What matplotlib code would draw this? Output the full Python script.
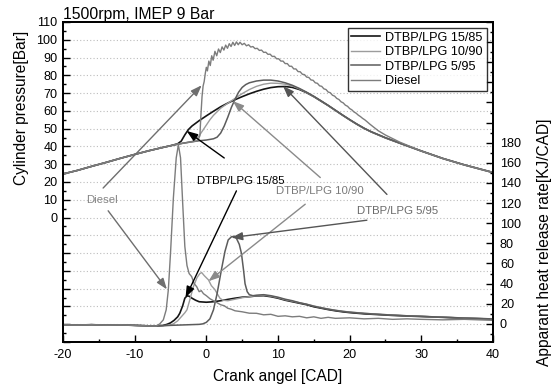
import matplotlib
matplotlib.use('Agg')
import matplotlib.pyplot as plt
from matplotlib.ticker import FixedLocator, FuncFormatter, MultipleLocator

plt.rcParams['font.family'] = ['Liberation Sans', 'DejaVu Sans']
plt.rcParams['axes.unicode_minus'] = False

# ---- cylinder pressure [bar] vs crank angle ----
comp_ca = [-20, -18, -16, -14, -12, -10, -8, -6, -5]
comp_p = [24.5, 26.5, 28.8, 31.0, 33.3, 35.5, 37.6, 39.5, 40.4]

p_1585_ca = comp_ca + [-4, -3.5, -3, -2.5, -2, -1, 0, 1, 2, 3, 4, 5, 6, 7, 8, 9, 10, 11, 12,
                       13, 14, 15, 16, 17, 18, 19, 20, 21, 22, 23, 24, 25, 27, 30, 33, 36, 40]
p_1585 = comp_p + [41.5, 43.0, 46.5, 49.5, 51.5, 54.5, 57.2, 59.8, 62.3, 64.4, 66.3, 68.0, 69.6,
                   71.0, 72.2, 73.1, 73.6, 73.7, 73.2, 72.0, 70.2, 68.0, 65.5, 63.0, 60.3, 57.6,
                   55.0, 52.5, 50.2, 48.2, 46.5, 44.8, 41.8, 37.4, 33.2, 29.6, 25.3]

p_1090_ca = comp_ca + [-4, -3, -2, -1.5, -1, -0.5, 0, 0.5, 1, 1.5, 2, 3, 4, 5, 6, 7, 8, 9, 10,
                       11, 12, 13, 14, 15, 16, 17, 18, 19, 20, 21, 22, 23, 24, 25, 27, 30, 33, 36, 40]
p_1090 = comp_p + [41.3, 42.0, 42.8, 44.0, 46.0, 49.0, 52.0, 55.0, 57.5, 59.5, 61.5, 64.3, 67.0,
                   69.7, 72.0, 73.8, 75.0, 75.6, 75.5, 75.0, 74.0, 72.3, 70.3, 68.0, 65.6, 63.0,
                   60.3, 57.6, 55.0, 52.5, 50.2, 48.2, 46.5, 44.8, 41.8, 37.4, 33.2, 29.6, 25.2]

p_595_ca = comp_ca + [-3, -1, 0, 1, 1.5, 2, 2.5, 3, 3.5, 4, 4.5, 5, 5.5, 6, 7, 8, 9, 10, 11, 12,
                      13, 14, 15, 16, 17, 18, 19, 20, 21, 22, 23, 24, 25, 27, 30, 33, 36, 40]
p_595 = comp_p + [42.0, 43.2, 43.6, 44.3, 45.2, 47.5, 51.5, 56.5, 62.0, 66.5, 70.5, 73.2, 74.8,
                  75.8, 76.8, 77.3, 77.3, 76.8, 75.8, 74.4, 72.6, 70.5, 68.2, 65.7, 63.1, 60.4,
                  57.7, 55.1, 52.6, 50.3, 48.3, 46.6, 44.9, 41.9, 37.5, 33.3, 29.7, 25.4]

p_dsl_ca = comp_ca[:-1] + [-4, -2, -1.2, -0.9, -0.75, -0.6, -0.45, -0.3, -0.15, 0.0, 0.15, 0.35,
                           0.55, 0.75, 0.95, 1.2, 1.45, 1.7, 1.95, 2.2, 2.45, 2.7, 2.95, 3.2, 3.45,
                           3.7, 3.95, 4.2, 4.45, 4.7, 5.0, 5.3, 5.6, 5.9, 6.2, 6.5, 6.8, 7.1, 7.4,
                           7.7, 8.0, 8.3, 8.6, 8.9, 9.2, 9.5, 9.8, 10.1, 10.4, 10.7, 11.0, 11.3,
                           11.6, 11.9, 12.2, 12.5, 12.8, 13.1, 13.4, 13.7, 14.0, 14.3, 14.6, 14.9,
                           15.2, 15.5, 15.8, 16.1, 16.4, 16.7, 17.0, 17.3, 17.6, 17.9, 18.2, 18.5,
                           18.8, 19.1, 19.4, 19.7, 20.0, 20.3, 20.6, 20.9, 21.2, 21.5, 21.8, 22.1,
                           22.4, 22.8, 23.3, 24, 25, 27, 30, 33, 36, 40]
p_dsl = comp_p[:-1] + [41.3, 42.6, 43.2, 46.0, 58.0, 68.0, 74.0, 76.5, 81.0, 84.5, 82.5, 88.0,
                       85.5, 91.0, 88.5, 93.5, 91.0, 94.8, 92.8, 96.0, 94.2, 97.0, 95.2, 97.8, 96.2,
                       98.6, 96.8, 98.8, 97.2, 98.6, 97.2, 98.0, 96.6, 97.2, 95.9, 96.2, 95.0, 95.2,
                       94.0, 94.2, 92.9, 93.0, 91.8, 91.9, 90.6, 90.7, 89.3, 89.3, 88.0, 88.0, 86.6,
                       86.6, 85.1, 85.1, 83.6, 83.6, 82.1, 82.0, 80.6, 80.4, 79.0, 78.8, 77.4, 77.2,
                       75.8, 75.5, 74.1, 73.8, 72.4, 72.0, 70.6, 70.2, 68.8, 68.3, 67.0, 66.4, 65.1,
                       64.5, 63.2, 62.6, 61.3, 60.6, 59.4, 58.7, 57.6, 56.8, 55.8, 55.0, 54.0, 52.6,
                       51.0, 48.8, 46.4, 42.4, 37.4, 33.2, 29.6, 25.4]

# ---- apparent heat release rate [kJ/CAD] ----
base_ca = [-20, -18, -16, -14, -12, -10, -8, -7]
base_h = [-1.0, -1.2, -0.8, -1.3, -1.0, -1.5, -2.0, -2.2]

h_1585_ca = base_ca + [-6, -5.5, -5, -4.5, -4, -3.7, -3.3, -3.0, -2.7, -2.4, -2, -1.5, -1, 0, 1, 2,
                       3, 4, 5, 6, 7, 8, 9, 10, 11, 12, 13, 14, 15, 16, 17, 18, 19, 20, 21, 22,
                       24, 26, 28, 30, 33, 36, 40]
h_1585 = base_h + [-1.5, -0.5, 1.0, 3.5, 7.0, 10.6, 18.0, 25.5, 27.8, 27.5, 25.5, 23.5, 22.0,
                   21.5, 22.0, 23.0, 24.3, 25.5, 26.5, 27.0, 27.8, 28.0, 27.0, 25.5, 23.5, 22.0,
                   20.5, 19.0, 17.0, 15.6, 14.2, 13.0, 12.0, 11.2, 10.6, 10.0, 9.2, 8.4, 7.8, 7.3,
                   6.5, 5.6, 4.7]

h_1090_ca = base_ca + [-6, -5, -4.6, -4, -3.5, -3, -2.7, -2.3, -1.8, -1.3, -0.9, -0.65, -0.3, 0.3,
                       0.7, 1.2, 1.6, 1.9, 2.3, 3, 4, 5, 6, 7, 8, 9, 10, 11, 12, 13, 14, 15, 16,
                       17, 18, 19, 20, 22, 24, 26, 28, 30, 33, 36, 40]
h_1090 = base_h + [-1.8, -1.0, 0.0, 3.0, 7.0, 11.0, 14.0, 24.0, 37.0, 46.0, 50.0, 51.0, 48.0,
                   43.7, 38.0, 34.0, 29.0, 25.5, 23.5, 23.0, 24.5, 26.0, 27.0, 28.0, 28.5, 27.5,
                   26.0, 24.0, 22.5, 21.0, 19.5, 17.8, 16.2, 14.8, 13.6, 12.6, 11.8, 10.6, 9.6,
                   8.8, 8.1, 7.5, 6.7, 5.9, 5.0]

h_595_ca = base_ca + [-5, -3, -1, -0.5, 0, 0.5, 1.0, 1.5, 2.1, 2.6, 3.05, 3.5, 3.9, 4.2, 4.6, 4.9,
                      5.2, 5.4, 5.7, 6.0, 6.5, 7, 8, 9, 10, 11, 12, 13, 14, 15, 16, 17, 18, 19,
                      20, 22, 24, 26, 28, 30, 33, 36, 40]
h_595 = base_h + [-1.5, -1.0, -0.5, 0.0, 1.5, 5.0, 14.0, 30.0, 53.6, 72.0, 83.4, 86.5, 87.0,
                  85.0, 79.0, 70.0, 53.0, 40.0, 32.0, 29.0, 28.0, 28.5, 29.0, 28.0, 26.5, 24.5,
                  23.0, 21.0, 19.5, 17.5, 16.0, 14.6, 13.4, 12.4, 11.6, 10.4, 9.5, 8.7, 8.0, 7.5,
                  6.6, 5.8, 4.9]

h_dsl_ca = base_ca + [-6.5, -6, -5.6, -5.3, -5.0, -4.6, -4.2, -3.9, -3.6, -3.3, -3.0, -2.7, -2.4,
                      -2.05, -1.7, -1.35, -1.0, -0.7, -0.4, 0, 0.5, 1, 1.5, 2, 2.5, 3, 3.5, 4, 5,
                      6, 7, 8, 9, 10, 11, 12, 13, 14, 15, 16, 17, 18, 20, 22, 24, 26, 28, 30, 33,
                      36, 40]
h_dsl = base_h + [0.0, 4.0, 14.0, 34.0, 70.0, 125.0, 165.0, 178.0, 165.0, 120.0, 77.0, 58.0, 50.0,
                  47.0, 40.0, 37.0, 32.0, 33.0, 30.0, 28.0, 25.0, 23.0, 21.0, 19.0, 18.0, 15.5,
                  14.5, 13.0, 12.0, 10.6, 10.5, 9.0, 9.5, 7.5, 8.0, 7.0, 7.5, 6.0, 7.0, 5.5, 6.5,
                  5.5, 6.0, 5.0, 5.5, 4.5, 5.0, 4.5, 4.0, 4.5, 3.5]

labels = ['DTBP/LPG 15/85', 'DTBP/LPG 10/90', 'DTBP/LPG 5/95', 'Diesel']
colors = ['#151515', '#9c9c9c', '#5c5c5c', '#7c7c7c']
widths = [1.2, 1.0, 1.1, 1.0]

fig = plt.figure(figsize=(5.57, 3.92), dpi=100)
ax = fig.add_axes([0.1131, 0.1276, 0.772, 0.8163])
ax2 = ax.twinx()

p_data = [(p_1585_ca, p_1585), (p_1090_ca, p_1090), (p_595_ca, p_595), (p_dsl_ca, p_dsl)]
h_data = [(h_1585_ca, h_1585), (h_1090_ca, h_1090), (h_595_ca, h_595), (h_dsl_ca, h_dsl)]

handles = []
for (x, y), lab, c, w in zip(p_data, labels, colors, widths):
    ln, = ax.plot(x, y, color=c, lw=w, label=lab)
    handles.append(ln)
for (x, y), c, w in zip(h_data, colors, widths):
    ax2.plot(x, y, color=c, lw=w)

ax.set_xlim(-20, 40)
ax.set_ylim(-70, 110)
ax2.set_ylim(-18, 300)

ax.xaxis.set_major_locator(MultipleLocator(10))
ax.xaxis.set_minor_locator(MultipleLocator(5))
ax.yaxis.set_major_locator(FixedLocator(list(range(-70, 111, 10))))
ax.yaxis.set_minor_locator(MultipleLocator(5))
ax.yaxis.set_major_formatter(FuncFormatter(lambda v, p: '%d' % v if v >= 0 else ''))
ax2.yaxis.set_major_locator(MultipleLocator(20))
ax2.yaxis.set_minor_locator(MultipleLocator(10))
ax2.yaxis.set_major_formatter(FuncFormatter(lambda v, p: '%d' % v if 0 <= v <= 180 else ''))

for a in (ax, ax2):
    a.tick_params(which='major', direction='in', length=5, width=1, labelsize=9.1)
    a.tick_params(which='minor', direction='in', length=2.5, width=1)
    for s in a.spines.values():
        s.set_linewidth(1.3)
ax.tick_params(axis='y', pad=4)
ax.tick_params(axis='x', pad=5)
ax2.tick_params(axis='y', pad=5)

for g in range(-60, 101, 10):
    ax.axhline(g, color='#bdbdbd', lw=0.8, ls=(0, (1, 2)), zorder=0)

ax.set_xlabel('Crank angel [CAD]', fontsize=11.2, labelpad=6)
ax.set_ylabel('Cylinder pressure[Bar]', fontsize=11.2)
ax.yaxis.set_label_coords(-0.078, 0.733)
ax2.set_ylabel('Apparant heat release rate[KJ/CAD]', fontsize=11.2)
ax2.yaxis.set_label_coords(1.102, 0.3125)
ax.set_title('1500rpm, IMEP 9 Bar', loc='left', fontsize=11.3, pad=2)

leg = ax2.legend(handles, labels, loc='upper right', bbox_to_anchor=(0.9855, 0.981),
                 fontsize=9.1, frameon=True, fancybox=False, edgecolor='black',
                 handlelength=2.3, handletextpad=0.4, labelspacing=0.2, borderpad=0.3,
                 borderaxespad=0)
leg.get_frame().set_linewidth(1.0)

# annotations: (text, text pos, text colour, arrow colour, [(tail, head), ...])
notes = [
    ('Diesel', (-14.5, 10), '#858585', '#6e6e6e',
     [((-14.4, 16.6), (-0.65, 74.4)), ((-13.7, 3.8), (-5.5, -40.4))]),
    ('DTBP/LPG 15/85', (4.8, 20.6), '#000000', '#000000',
     [((2.5, 33.5), (-2.75, 48.7)), ((4.2, 15.0), (-2.9, -45.0))]),
    ('DTBP/LPG 10/90', (15.9, 15.0), '#7a7a7a', '#8a8a8a',
     [((15.9, 22.5), (3.7, 65.5)), ((13.8, 7.5), (0.3, -35.8))]),
    ('DTBP/LPG 5/95', (26.7, 3.8), '#6a6a6a', '#555555',
     [((25.2, 13.0), (10.7, 74.0)), ((22.4, -1.5), (3.5, -11.3))]),
]
for txt, pos, tc, ac, arrows in notes:
    ax2.text(pos[0], pos[1], txt, transform=ax.transData, color=tc, fontsize=8.2,
             ha='center', va='center')
    for tail, head in arrows:
        ax2.annotate('', xy=head, xytext=tail, xycoords=ax.transData, textcoords=ax.transData,
                     arrowprops=dict(arrowstyle='-|>,head_length=0.6,head_width=0.22',
                                     color=ac, lw=1.0, shrinkA=0, shrinkB=0,
                                     mutation_scale=11))

fig.savefig('out.png', dpi=100)
